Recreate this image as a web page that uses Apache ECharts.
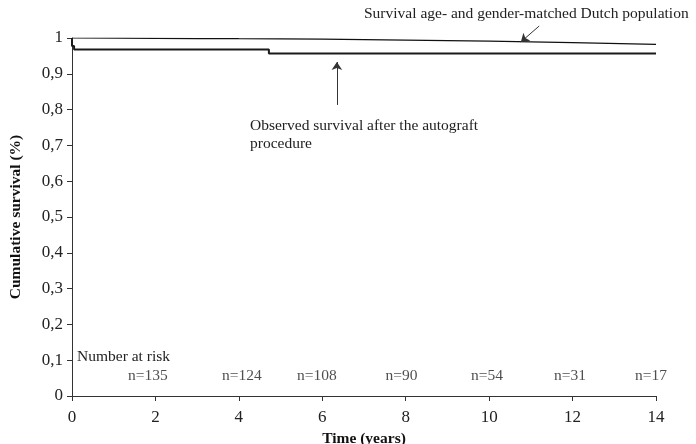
<!DOCTYPE html>
<html>
<head>
<meta charset="utf-8">
<script src="https://cdn.jsdelivr.net/npm/echarts@6/dist/echarts.min.js"></script>
<style>
  html, body { margin: 0; padding: 0; background: #fff; }
  #chart { width: 696px; height: 444px; }
</style>
</head>
<body>
<div id="chart"></div>
<script>
// observed survival (step function, time in years)
const observedTime = [0, 0, 0.05, 0.05, 4.72, 4.72, 14]
const observedSurv = [1, 0.978, 0.978, 0.968, 0.968, 0.957, 0.957]

// expected survival of age- and gender-matched population
const popTime = [0, 2, 4, 6, 8, 10, 12, 14]
const popSurv = [1, 0.999, 0.998, 0.997, 0.994, 0.991, 0.987, 0.982]

// number at risk
const riskTime = [1.82, 4.07, 5.87, 7.9, 9.95, 11.94, 13.88]
const riskCount = [135, 124, 108, 90, 54, 31, 17]

const font = '"Liberation Serif", "DejaVu Serif", serif'

let mychart = echarts.init(document.getElementById('chart'))

mychart.setOption({
  animation: false,
  textStyle: { fontFamily: font },
  grid: { left: 72, right: 40, top: 38, bottom: 48, containLabel: false, outerBoundsMode: 'none' },
  xAxis: {
    type: 'value',
    min: 0, max: 14, interval: 2,
    name: 'Time (years)',
    nameLocation: 'middle',
    nameGap: 34,
    nameTextStyle: { fontFamily: font, fontSize: 15.5, fontWeight: 'bold', color: '#111' },
    axisLine: { lineStyle: { color: '#333', width: 1 } },
    axisTick: { show: true, length: 5, lineStyle: { color: '#333' } },
    axisLabel: { fontFamily: font, fontSize: 17, color: '#222', margin: 13 },
    splitLine: { show: false }
  },
  yAxis: {
    type: 'value',
    min: 0, max: 1, interval: 0.1,
    name: 'Cumulative survival (%)',
    nameLocation: 'middle',
    nameGap: 48,
    nameRotate: 90,
    nameTextStyle: { fontFamily: font, fontSize: 15.5, fontWeight: 'bold', color: '#111' },
    axisLine: { show: true, lineStyle: { color: '#333', width: 1 } },
    axisTick: { show: true, length: 5, lineStyle: { color: '#333' } },
    axisLabel: {
      fontFamily: font, fontSize: 17, color: '#222', margin: 9,
      formatter: v => (v === 0 || v === 1) ? String(v) : v.toFixed(1).replace('.', ',')
    },
    splitLine: { show: false }
  },
  series: [
    {
      name: 'population',
      type: 'line',
      data: popTime.map((t, i) => [t, popSurv[i]]),
      showSymbol: false,
      smooth: 0.3,
      lineStyle: { color: '#111', width: 1.2 },
      z: 3
    },
    {
      name: 'observed',
      type: 'line',
      data: observedTime.map((t, i) => [t, observedSurv[i]]),
      showSymbol: false,
      lineStyle: { color: '#1a1a1a', width: 2 },
      z: 4
    },
    {
      name: 'at risk',
      type: 'scatter',
      symbolSize: 0,
      data: riskTime.map((t, i) => [t, 0.056, riskCount[i]]),
      label: {
        show: true, position: 'inside',
        formatter: p => 'n=' + p.data[2],
        fontFamily: font, fontSize: 15.5, color: '#222'
      }
    },
    {
      name: 'arrows',
      type: 'lines',
      coordinateSystem: 'cartesian2d',
      clip: false,
      symbol: ['none', 'arrow'],
      symbolSize: 8,
      lineStyle: { color: '#333', width: 1, opacity: 1 },
      data: [
        { coords: [[11.2, 1.0335], [10.76, 0.989]] },
        { coords: [[6.35, 0.813], [6.35, 0.933]] }
      ],
      z: 5
    }
  ],
  graphic: [
    {
      type: 'text', left: 364, top: 6,
      style: { text: 'Survival age- and gender-matched Dutch population', font: '15.5px ' + font, fill: '#222' }
    },
    {
      type: 'text', left: 250, top: 117,
      style: { text: 'Observed survival after the autograft\nprocedure', font: '15.5px ' + font, fill: '#222', lineHeight: 18 }
    },
    {
      type: 'text', left: 77, top: 349,
      style: { text: 'Number at risk', font: '15.5px ' + font, fill: '#222' }
    }
  ]
})
</script>
</body>
</html>
